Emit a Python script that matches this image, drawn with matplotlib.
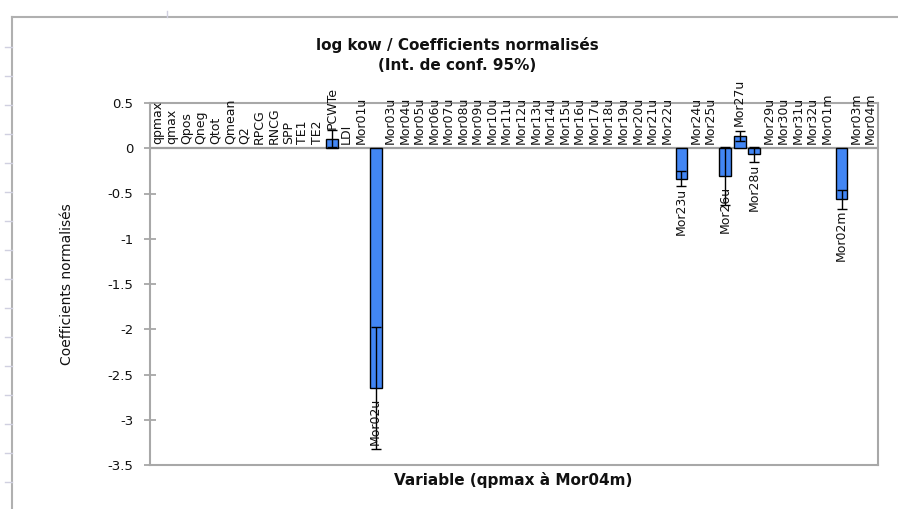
import matplotlib
matplotlib.use("Agg")
import matplotlib.pyplot as plt
from matplotlib.lines import Line2D
import numpy as np

# Variables (qpmax to Mor04m)
variables = (["qpmax", "qmax", "Qpos", "Qneg", "Qtot", "Qmean", "Q2", "RPCG",
              "RNCG", "SPP", "TE1", "TE2", "PCWTe", "LDI"]
             + [f"Mor{i:02d}u" for i in range(1, 33)]
             + [f"Mor{i:02d}m" for i in range(1, 5)])

# Normalised coefficients and 95% confidence half-widths (non-zero ones)
coef_nonzero = {"PCWTe": 0.107, "Mor02u": -2.65, "Mor23u": -0.335,
                "Mor26u": -0.31, "Mor27u": 0.135, "Mor28u": -0.068,
                "Mor02m": -0.565}
conf_nonzero = {"PCWTe": 0.09, "Mor02u": 0.67, "Mor23u": 0.085,
                "Mor26u": 0.32, "Mor27u": 0.06, "Mor28u": 0.08,
                "Mor02m": 0.105}

coefs = np.array([coef_nonzero.get(v, 0.0) for v in variables])
conf = np.array([conf_nonzero.get(v, 0.0) for v in variables])

y_ticks = [0.5, 0, -0.5, -1, -1.5, -2, -2.5, -3, -3.5]

W, H = 898, 509
fig = plt.figure(figsize=(W / 100, H / 100), dpi=100)
fig.patch.set_facecolor("white")

# Plot area in pixel coordinates
left, right, top, bottom = 150, 878, 103, 465
ax = fig.add_axes([left / W, 1 - bottom / H, (right - left) / W, (bottom - top) / H])

x = np.arange(len(variables))
bar_color = "#4286f4"
bars = ax.bar(x, coefs, width=0.8, color=bar_color, edgecolor="black",
              linewidth=1.0, zorder=3)
for b, v in zip(bars, coefs):
    if v == 0:
        b.set_linewidth(0)

mask = conf > 0
ax.errorbar(x[mask], coefs[mask], yerr=conf[mask], fmt="none", ecolor="black",
            elinewidth=1.0, capsize=3.5, capthick=1.0, zorder=4)

ax.axhline(0, color="#a0a0a0", lw=1.6, zorder=2)

# Category names as data labels at the end of each bar
lab_kw = dict(textcoords="offset points", rotation=90, ha="center",
              fontsize=9, color="#111111", annotation_clip=False, zorder=5)
for xi, v, name in zip(x, coefs, variables):
    if v >= 0:
        ax.annotate(name, (xi, v), xytext=(0, 3 if v == 0 else 7),
                    va="bottom", **lab_kw)
    else:
        ax.annotate(name, (xi, v), xytext=(0, -7), va="top", **lab_kw)

ax.set_xlim(-0.5, len(variables) - 0.5)
ax.set_ylim(-3.5, 0.5)
ax.set_yticks(y_ticks)
ax.set_yticklabels([f"{t:g}" for t in y_ticks], fontsize=9.5, color="#111111")
ax.set_xticks([])
ax.tick_params(axis="y", direction="inout", length=8, width=1.2,
               color="#a0a0a0", pad=8)
for s in ax.spines.values():
    s.set_color("#a8a8a8")
    s.set_linewidth(1.5)

ax.set_ylabel("Coefficients normalisés", fontsize=10, color="#111111",
              labelpad=24)

fig.text(457 / W, 1 - 45 / H, "log kow / Coefficients normalisés",
         ha="center", va="center", fontsize=11, fontweight="bold",
         color="#111111")
fig.text(457 / W, 1 - 66 / H, "(Int. de conf. 95%)", ha="center",
         va="center", fontsize=11, fontweight="bold", color="#111111")
fig.text(513 / W, 1 - 480 / H, "Variable (qpmax à Mor04m)", ha="center",
         va="center", fontsize=11, fontweight="bold", color="#111111")

# Outer chart frame
frame_col = "#b0b0b0"
fig.add_artist(Line2D([12 / W, 12 / W], [0, 1 - 17 / H], transform=fig.transFigure,
                      color=frame_col, lw=1.5))
fig.add_artist(Line2D([12 / W, 1], [1 - 17 / H, 1 - 17 / H], transform=fig.transFigure,
                      color=frame_col, lw=1.5))
fig.add_artist(Line2D([167 / W, 167 / W], [1 - 11 / H, 1 - 17 / H],
                      transform=fig.transFigure, color="#d0d0e0", lw=1.0))
for yy in np.arange(47, H, 29):
    fig.add_artist(Line2D([5 / W, 12 / W], [1 - yy / H, 1 - yy / H],
                          transform=fig.transFigure, color="#d0d0e0", lw=1.0))

fig.savefig("out.png", dpi=100)
